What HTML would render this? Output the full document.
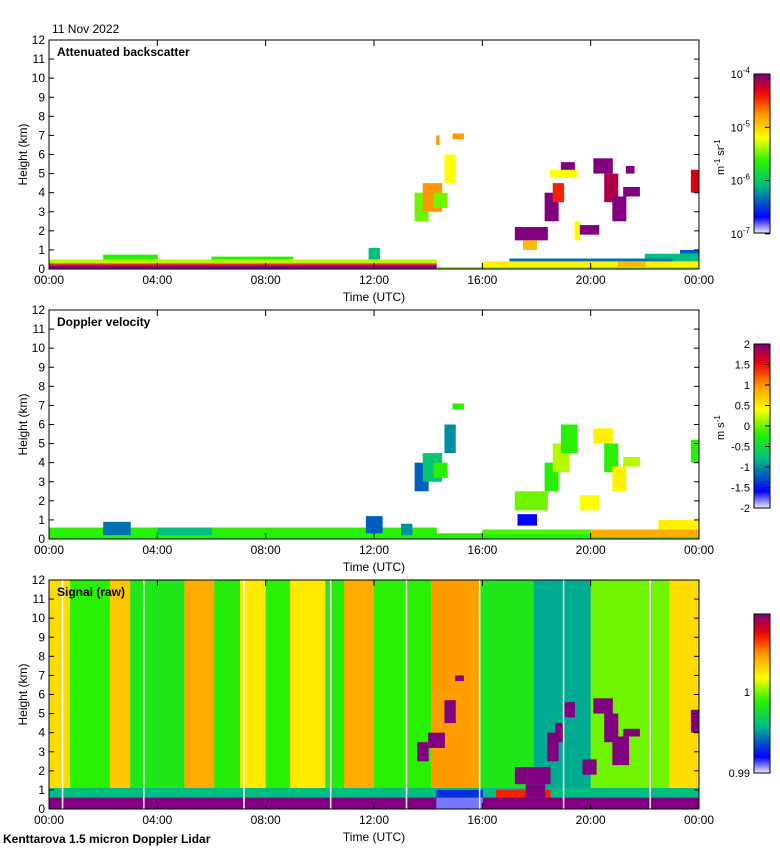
<!DOCTYPE html>
<html><head><meta charset="utf-8">
<style>
body{margin:0;background:#fff;}
svg{display:block;font-family:"Liberation Sans",sans-serif;}
</style></head>
<body>
<svg id="c" width="780" height="850"></svg>
<script>
// ---- data (hours UTC, height km, normalized value 0..1) ----
const timeTicks = ["00:00","04:00","08:00","12:00","16:00","20:00","00:00"];
const heightTicks = [0,1,2,3,4,5,6,7,8,9,10,11,12];
const backscatterCells = [
 [0,14.3,0,0.2,1],[0,14.3,0.2,0.3,0.85],[0,14.3,0.3,0.5,0.55],[2,4,0.5,0.75,0.45],[6,9,0.5,0.65,0.45],[11.8,12.2,0.5,1.1,0.3],
 [14.3,24,0,0.1,0.5],[16,24,0.1,0.4,0.62],[21,22,0.1,0.4,0.7],[22,24,0.4,0.8,0.3],[17,23,0.4,0.55,0.22],[23.3,24,0.8,1,0.2],
 [13.5,14,2.5,4,0.5],[13.8,14.5,3,4.5,0.75],[14.2,14.7,3.2,4,0.5],[14.6,15,4.5,6,0.6],[14.9,15.3,6.8,7.1,0.75],[14.3,14.4,6.5,7,0.75],
 [17.2,18.4,1.5,2.2,1],[17.5,18,1,1.5,0.7],[18.3,18.8,2.5,4,1],[18.6,19,3.5,4.5,0.85],[18.9,19.4,4.8,5.6,1],[18.5,19.5,4.8,5.2,0.6],
 [19.4,19.6,1.5,2.5,0.6],[19.6,20.3,1.8,2.3,1],[20.1,20.8,5,5.8,1],[20.5,21,3.5,5,0.95],[20.8,21.3,2.5,3.8,1],[21.2,21.8,3.8,4.3,1],[21.3,21.6,5,5.4,1],[23.7,24,4,5.2,0.9]
];
const velocityCells = [
 [0,14.3,0,0.6,0.45],[2,3,0.2,0.9,0.22],[4,6,0.2,0.6,0.3],[11.7,12.3,0.3,1.2,0.2],[13,13.4,0.2,0.8,0.25],
 [14.3,24,0,0.3,0.45],[16,20,0.3,0.5,0.48],[20,24,0.1,0.5,0.72],[22.5,24,0.5,1,0.62],[17.3,18,0.7,1.3,0.1],
 [13.5,14,2.5,4,0.2],[13.8,14.5,3,4.5,0.32],[14.2,14.7,3.2,4,0.45],[14.6,15,4.5,6,0.25],[14.9,15.3,6.8,7.1,0.45],
 [17.2,18.4,1.5,2.5,0.5],[18.3,18.8,2.5,4,0.45],[18.6,19.2,3.5,5,0.55],[18.9,19.5,4.5,6,0.45],[19.6,20.3,1.5,2.3,0.6],
 [20.1,20.8,5,5.8,0.62],[20.5,21,3.5,5,0.45],[20.8,21.3,2.5,3.8,0.62],[21.2,21.8,3.8,4.3,0.55],[23.7,24,4,5.2,0.45]
];
const signalStripes = [
 [0,0.78,0.65],[0.78,2.25,0.45],[2.25,3.0,0.68],[3.0,5.0,0.42],[5.0,6.1,0.72],[6.1,7.05,0.44],[7.05,8.0,0.63],
 [8.0,8.9,0.45],[8.9,10.2,0.63],[10.2,10.9,0.44],[10.9,12.0,0.72],[12.0,14.1,0.45],[14.1,15.9,0.74],
 [15.9,17.9,0.42],[17.9,20.0,0.28],[20.0,22.9,0.5],[22.9,24,0.65]
];
const signalCells = [
 [0,24,0.6,1.1,0.3],[0,24,0,0.6,1],[14.3,16,0,0.6,0.05],[14.3,16,0.6,1,0.15],[16.5,18.5,0.6,1,0.85],
 [13.6,14,2.5,3.5,1],[14,14.6,3.2,4,1],[14.6,15,4.5,5.7,1],[15,15.3,6.7,7,1],
 [17.2,18.5,1.3,2.2,1],[17.6,18.3,0.6,1.3,1],[18.4,18.8,2.5,4,1],[18.7,19,3.5,4.5,1],[19,19.4,4.8,5.6,1],
 [19.7,20.2,1.8,2.6,1],[20.1,20.8,5,5.8,1],[20.5,21,3.5,5,1],[20.8,21.4,2.3,3.8,1],[21.2,21.8,3.8,4.2,1],[23.7,24,4,5.2,1]
];
const whiteLines = [0.5,3.5,7.2,10.4,13.2,15.9,19.0,22.2];

// ---- drawing ----
const NS="http://www.w3.org/2000/svg", svg=document.getElementById('c');
function el(t,a,p){const e=document.createElementNS(NS,t);for(const k in a)e.setAttribute(k,a[k]);(p||svg).appendChild(e);return e;}
const X0=49,X1=699;
function xs(h){return X0+(X1-X0)*h/24;}
const stops=[[0,[235,235,255]],[0.1,[0,0,255]],[0.3,[0,190,130]],[0.45,[40,240,0]],[0.6,[255,255,0]],[0.75,[255,150,0]],[0.88,[240,0,0]],[1,[128,0,128]]];
function cmap(v){for(let i=1;i<stops.length;i++){if(v<=stops[i][0]){const a=stops[i-1],b=stops[i],f=(v-a[0])/(b[0]-a[0]);return 'rgb('+a[1].map((c,j)=>Math.round(c+(b[1][j]-c)*f)).join(',')+')';}}return 'rgb(128,0,128)';}
const panels=[{top:40,title:'Attenuated backscatter',cells:backscatterCells,name:'backscatter'},
 {top:310,title:'Doppler velocity',cells:velocityCells,name:'velocity'},
 {top:580,title:'Signal (raw)',cells:signalCells,name:'signal'}];
el('text',{x:52,y:33,'font-size':12,}).textContent='11 Nov 2022';
panels.forEach((p,pi)=>{
 const H=229,ys=k=>p.top+H-H*k/12;
 const g=el('g',{});
 if(pi===2){signalStripes.forEach(s=>{const r=el('rect',{x:xs(s[0]),y:ys(12),width:xs(s[1])-xs(s[0])+0.5,height:ys(1)-ys(12),fill:cmap(s[2])},g);
   });}
 p.cells.forEach(c=>{const r=el('rect',{x:xs(c[0]),y:ys(c[3]),width:xs(c[1])-xs(c[0])+0.5,height:ys(c[2])-ys(c[3]),fill:cmap(c[4])},g);
   });
 if(pi===2){whiteLines.forEach(w=>{const l=el('line',{x1:xs(w),x2:xs(w),y1:ys(12),y2:ys(0),stroke:'#fff','stroke-width':1.5},g);
   });}
 el('rect',{x:X0,y:p.top,width:X1-X0,height:H,fill:'none',stroke:'#000','stroke-width':1,});
 el('text',{x:57,y:p.top+16,'font-size':12,'font-weight':'bold',}).textContent=p.title;
 heightTicks.forEach(k=>{el('line',{x1:X0,x2:X0+5,y1:ys(k),y2:ys(k),stroke:'#000'});el('line',{x1:X1-5,x2:X1,y1:ys(k),y2:ys(k),stroke:'#000'});
  const t=el('text',{x:45,y:ys(k)+4,'font-size':12,'text-anchor':'end'});t.textContent=k;});
 timeTicks.forEach((s,i)=>{const x=xs(i*4);el('line',{x1:x,x2:x,y1:p.top+H,y2:p.top+H-6,stroke:'#000'});el('line',{x1:x,x2:x,y1:p.top,y2:p.top+6,stroke:'#000'});
  const t=el('text',{x:x,y:p.top+H+15,'font-size':12,'text-anchor':'middle'});t.textContent=s;});
 el('text',{x:374,y:p.top+H+32,'font-size':12,'text-anchor':'middle',}).textContent='Time (UTC)';
 const yt=el('text',{x:0,y:0,'font-size':12,'text-anchor':'middle',transform:`translate(27,${p.top+H/2}) rotate(-90)`,});yt.textContent='Height (km)';
});
// colorbars
const cbs=[{y0:74,y1:233},{y0:344,y1:508},{y0:614,y1:773}];
const defs=el('defs',{});const lg=el('linearGradient',{id:'cg',x1:0,y1:1,x2:0,y2:0},defs);
for(let i=0;i<=20;i++)el('stop',{offset:i/20,'stop-color':cmap(i/20)},lg);
cbs.forEach((c,i)=>{el('rect',{x:754,y:c.y0,width:16,height:c.y1-c.y0,fill:'url(#cg)',stroke:'#000',});});
function lab(x,y,s,n){const t=el('text',{x:x,y:y,'font-size':11,'text-anchor':'end'});t.innerHTML=s;}
[-4,-5,-6,-7].forEach((e,i)=>{const y=74+i*53.3;lab(750,y+4,'10<tspan dy="-5" font-size="8">'+e+'</tspan>','colorbar-tick');el('line',{x1:765,x2:770,y1:y,y2:y,stroke:'#000'});});
['2','1.5','1','0.5','0','-0.5','-1','-1.5','-2'].forEach((s,i)=>{const y=344+i*20.5;lab(750,y+4,s,'colorbar-tick');el('line',{x1:765,x2:770,y1:y,y2:y,stroke:'#000'});});
lab(750,696,'1','colorbar-tick');lab(750,777,'0.99','colorbar-tick');
el('text',{x:0,y:0,'font-size':11,transform:'translate(724,175) rotate(-90)',}).innerHTML='m<tspan dy="-4" font-size="8">-1</tspan><tspan dy="4"> sr</tspan><tspan dy="-4" font-size="8">-1</tspan>';
el('text',{x:0,y:0,'font-size':11,transform:'translate(724,440) rotate(-90)',}).innerHTML='m s<tspan dy="-4" font-size="8">-1</tspan>';
el('text',{x:3,y:843,'font-size':12,'font-weight':'bold',}).textContent='Kenttarova 1.5 micron Doppler Lidar';
</script>
</body></html>
